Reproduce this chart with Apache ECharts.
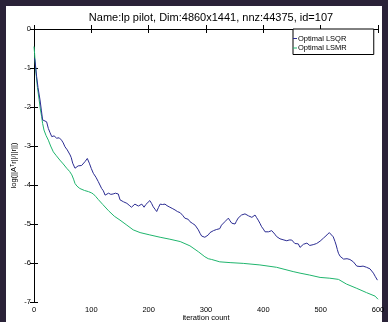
<!DOCTYPE html>
<html><head><meta charset="utf-8">
<script src="https://cdn.jsdelivr.net/npm/echarts@6/dist/echarts.min.js"></script>
<style>
html,body{margin:0;padding:0;background:#2a2238;width:388px;height:322px;overflow:hidden}
#bg{position:absolute;left:6px;top:6px;width:376px;height:316px;background:#fff}
#c{position:absolute;left:0;top:0;width:388px;height:322px}
</style></head><body>
<div id="bg"></div><div id="c"></div>
<script>
var titleText = 'Name:lp pilot, Dim:4860x1441, nnz:44375, id=107';
var xTicks = [0,100,200,300,400,500,600];
var yTicks = [0,-1,-2,-3,-4,-5,-6,-7];
var seriesNames = ['Optimal LSQR','Optimal LSMR'];
var lsqr = [[1,-0.75],[2,-0.84],[4.6,-1.22],[7,-1.5],[10.5,-1.82],[13,-2.1],[15,-2.33],[18,-2.32],[22,-2.38],[25,-2.55],[28,-2.66],[31,-2.76],[35,-2.74],[39.5,-2.80],[44,-2.79],[48,-2.85],[51,-2.92],[54,-3.02],[58,-3.1],[63,-3.23],[65,-3.3],[67.5,-3.44],[71.5,-3.57],[74,-3.53],[77,-3.51],[80,-3.47],[83,-3.5],[86,-3.49],[89,-3.40],[91,-3.44],[93,-3.32],[96.5,-3.44],[100,-3.58],[103.5,-3.70],[108,-3.8],[112,-3.91],[115,-4.0],[118,-4.09],[121,-4.15],[124,-4.26],[127,-4.22],[130,-4.21],[134,-4.24],[138,-4.23],[142,-4.21],[147,-4.23],[150,-4.38],[153,-4.36],[156,-4.43],[159,-4.4],[162,-4.47],[166,-4.52],[170,-4.57],[173,-4.53],[176,-4.49],[179,-4.52],[182,-4.54],[185,-4.5],[188,-4.49],[190,-4.53],[192,-4.57],[195,-4.5],[198,-4.45],[202,-4.40],[205,-4.47],[208,-4.56],[211,-4.62],[214,-4.68],[217,-4.58],[220,-4.49],[224,-4.5],[228.5,-4.49],[232,-4.53],[237,-4.57],[241,-4.6],[246,-4.64],[250,-4.68],[255,-4.71],[260,-4.79],[263,-4.85],[266,-4.90],[269,-4.88],[272,-4.94],[276,-4.98],[281,-5.03],[284,-5.08],[286.6,-5.15],[290,-5.25],[292.5,-5.31],[295,-5.33],[298,-5.34],[301,-5.3],[304,-5.28],[307,-5.22],[310,-5.20],[313,-5.17],[316,-5.15],[318.6,-5.14],[321.5,-5.17],[324,-5.12],[327,-5.03],[330,-4.98],[333,-4.94],[336,-4.9],[339,-4.85],[342,-4.92],[345,-4.98],[348,-5.0],[350.6,-5.0],[353,-4.93],[356,-4.85],[359,-4.8],[362,-4.77],[365,-4.74],[368,-4.74],[371,-4.76],[374,-4.79],[377,-4.8],[380,-4.83],[383,-4.79],[385.5,-4.77],[388,-4.83],[391,-4.90],[394,-4.98],[397,-5.07],[400,-5.13],[403,-5.20],[406,-5.18],[409,-5.20],[412,-5.18],[414.6,-5.17],[417,-5.22],[420,-5.26],[423,-5.32],[426,-5.37],[429,-5.38],[432,-5.41],[436,-5.41],[441,-5.43],[445,-5.41],[449.5,-5.41],[452,-5.45],[455,-5.50],[458,-5.49],[461,-5.51],[464,-5.6],[467,-5.58],[470,-5.52],[473,-5.50],[476,-5.49],[478.5,-5.51],[481,-5.55],[484,-5.58],[487,-5.53],[490,-5.50],[493,-5.5],[496,-5.48],[499,-5.44],[502,-5.39],[505,-5.36],[507.6,-5.33],[511,-5.28],[515,-5.22],[518,-5.27],[522,-5.33],[525,-5.45],[527,-5.54],[529,-5.65],[531,-5.75],[534,-5.83],[537,-5.88],[540,-5.9],[542.5,-5.92],[546,-5.89],[551,-5.91],[554,-5.94],[557,-5.97],[560,-6.02],[563,-6.08],[566,-6.07],[568.6,-6.09],[571,-6.06],[574,-6.08],[577,-6.1],[580,-6.11],[583,-6.12],[586,-6.15],[589,-6.2],[592,-6.26],[595,-6.34],[599,-6.44]];
var lsmr = [[0,-0.45],[1,-0.62],[2,-0.85],[3.5,-1.13],[6,-1.5],[9,-1.82],[11,-2.05],[13.4,-2.25],[15,-2.42],[17.4,-2.59],[21,-2.73],[25,-2.85],[29,-3.0],[33.7,-3.15],[39,-3.25],[45,-3.36],[51,-3.46],[57,-3.57],[62,-3.65],[66,-3.74],[69,-3.85],[71.5,-3.96],[75,-4.03],[80,-4.09],[88,-4.14],[95,-4.17],[100,-4.2],[103.5,-4.23],[108,-4.3],[112,-4.37],[120,-4.5],[130,-4.66],[140,-4.8],[150,-4.90],[162,-5.03],[173,-5.15],[185,-5.22],[202,-5.28],[220,-5.34],[237,-5.39],[255,-5.45],[272,-5.56],[286.6,-5.71],[298,-5.84],[304,-5.89],[310,-5.91],[324,-5.97],[342,-5.99],[365,-6.01],[394,-6.05],[423,-6.11],[452,-6.22],[464,-6.26],[481,-6.31],[499,-6.37],[516,-6.39],[531,-6.42],[545,-6.54],[563,-6.65],[580,-6.76],[595,-6.85],[600,-6.93]];

var FONT = 'Liberation Sans, Arial, Helvetica, sans-serif';
var chart = echarts.init(document.getElementById('c'), null, {renderer:'canvas'});
var axisCommon = {
  axisLine:{show:true,lineStyle:{color:'#000',width:1}},
  axisTick:{show:true,inside:true,length:4,lineStyle:{color:'#000',width:1}},
  splitLine:{show:false}
};
chart.setOption({
  backgroundColor:'transparent',
  animation:false,
  title:{text:titleText,left:206,textAlign:'center',top:7,textStyle:{fontFamily:FONT,fontSize:11,fontWeight:'normal',color:'#000'}},
  legend:{
    data:seriesNames, orient:'vertical', left:293, top:29,
    icon:'rect', itemWidth:4, itemHeight:1, itemGap:0.5,
    padding:[5,27,2,0], borderColor:'#000', borderWidth:1, backgroundColor:'#fff',
    textStyle:{fontFamily:FONT,fontSize:7.5,color:'#000',padding:[0,0,0,-4],lineHeight:9}
  },
  grid:{left:34,top:29,width:344,height:273,containLabel:false,outerBoundsMode:'none'},
  xAxis:[
    Object.assign({type:'value',min:0,max:600,interval:100,position:'bottom',
      name:'iteration count',nameLocation:'middle',nameGap:12,nameMoveOverlap:false,
      nameTextStyle:{fontFamily:FONT,fontSize:7.5,color:'#000'},
      axisLabel:{fontFamily:FONT,fontSize:7.5,color:'#000',margin:4}},axisCommon),
    Object.assign({type:'value',min:0,max:600,interval:100,position:'top',axisLabel:{show:false}},axisCommon)
  ],
  yAxis:[
    Object.assign({type:'value',min:-7,max:0,interval:1,position:'left',
      name:'log(||A\u1d40r||/||r||)',nameLocation:'middle',nameGap:16,nameMoveOverlap:false,
      nameTextStyle:{fontFamily:FONT,fontSize:7.5,color:'#000'},
      axisLabel:{fontFamily:FONT,fontSize:7.5,color:'#000',margin:3,formatter:function(v){return String(v).replace('\u2212','-');}}},axisCommon),
    Object.assign({type:'value',min:-7,max:0,interval:1,position:'right',axisLabel:{show:false}},axisCommon)
  ],
  series:[
    {name:seriesNames[0],type:'line',data:lsqr,showSymbol:false,symbol:'none',lineStyle:{color:'#2b2c92',width:1},itemStyle:{color:'#2b2c92'},z:3},
    {name:seriesNames[1],type:'line',data:lsmr,showSymbol:false,symbol:'none',lineStyle:{color:'#1fb56d',width:1},itemStyle:{color:'#1fb56d'},z:2}
  ]
});
</script></body></html>
